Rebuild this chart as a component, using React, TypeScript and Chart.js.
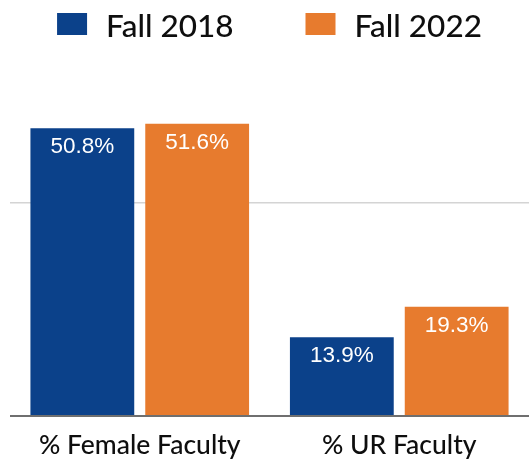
import React, { useEffect, useRef } from "react";
import { Chart, registerables } from "chart.js";

Chart.register(...registerables);

const categories = ["% Female Faculty", "% UR Faculty"];
const seriesNames = ["Fall 2018", "Fall 2022"];
const fall2018 = [50.8, 13.9];
const fall2022 = [51.6, 19.3];
const gridValues = [0, 37.6];
const colors = ["#0b418a", "#e77b2e"];

const FONT = "Lato, 'Noto Sans', sans-serif";

const labelPlugin = {
  id: "barLabels",
  afterDatasetsDraw(chart: any) {
    const ctx = chart.ctx;
    ctx.save();
    ctx.fillStyle = "#ffffff";
    ctx.font = "22.5px 'Liberation Sans', Arial, sans-serif";
    ctx.textAlign = "center";
    ctx.textBaseline = "alphabetic";
    chart.data.datasets.forEach((ds: any, di: number) => {
      const meta = chart.getDatasetMeta(di);
      meta.data.forEach((bar: any, i: number) => {
        ctx.fillText(ds.data[i].toFixed(1) + "%", bar.x, bar.y + 25);
      });
    });
    ctx.restore();
  },
};

const legendPlugin = {
  id: "topLegend",
  afterDraw(chart: any) {
    const ctx = chart.ctx;
    const boxW = 30;
    const boxH = 22;
    const gap = 19;
    const itemGap = 72;
    ctx.save();
    ctx.font = `500 31.5px ${FONT}`;
    const items = chart.data.datasets.map((ds: any) => ({
      text: ds.label,
      color: ds.backgroundColor,
      w: boxW + gap + ctx.measureText(ds.label).width,
    }));
    const total = items.reduce((s: number, it: any) => s + it.w, 0) + itemGap * (items.length - 1);
    const center = (chart.chartArea.left + chart.chartArea.right) / 2;
    let x = center - total / 2;
    ctx.textBaseline = "alphabetic";
    ctx.textAlign = "left";
    items.forEach((it: any) => {
      ctx.fillStyle = it.color;
      ctx.fillRect(x, 13, boxW, boxH);
      ctx.fillStyle = "#0e0e0e";
      ctx.fillText(it.text, x + boxW + gap, 37);
      x += it.w + itemGap;
    });
    ctx.restore();
  },
};

export default function App() {
  const ref = useRef<HTMLCanvasElement | null>(null);
  useEffect(() => {
    if (!ref.current) return;
    const chart = new Chart(ref.current, {
      type: "bar",
      data: {
        labels: categories,
        datasets: [
          { label: seriesNames[0], data: fall2018, backgroundColor: colors[0] },
          { label: seriesNames[1], data: fall2022, backgroundColor: colors[1] },
        ],
      },
      options: {
        animation: false,
        responsive: false,
        maintainAspectRatio: false,
        layout: { padding: { left: 10, right: 0, top: 70, bottom: 0 } },
        datasets: {
          bar: { categoryPercentage: 0.885, barPercentage: 0.904 },
        },
        plugins: {
          legend: { display: false },
          tooltip: { enabled: false },
        },
        scales: {
          x: {
            grid: { display: false },
            border: { display: false },
            afterFit: (axis: any) => {
              axis.height = 43;
            },
            ticks: {
              color: "#0e0e0e",
              padding: 6,
              font: { family: FONT, size: 26.5, weight: "500" },
            },
          },
          y: {
            min: 0,
            max: 61.1,
            border: { display: false },
            afterBuildTicks: (axis: any) => {
              axis.ticks = gridValues.map((v) => ({ value: v }));
            },
            ticks: { display: false },
            grid: {
              color: (c: any) => (c.tick && c.tick.value === 0 ? "#6f6f6f" : "#d4d4d4"),
              lineWidth: (c: any) => (c.tick && c.tick.value === 0 ? 2 : 1.5),
              drawTicks: false,
            },
          },
        },
      },
      plugins: [labelPlugin, legendPlugin],
    });
    return () => chart.destroy();
  }, []);
  return (
    <div style={{ position: "fixed", left: 0, top: 0, width: 529, height: 459, background: "#fff" }}>
      <canvas ref={ref} width={529} height={459} style={{ width: 529, height: 459 }} />
    </div>
  );
}
